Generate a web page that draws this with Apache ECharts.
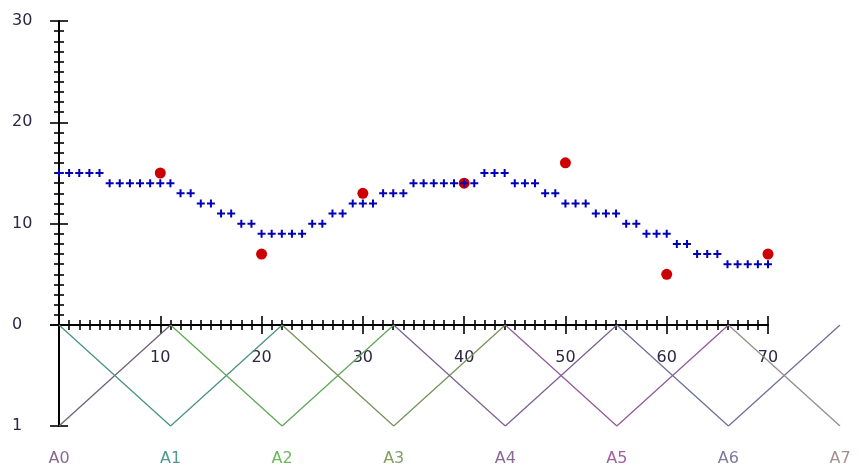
<!DOCTYPE html>
<html>
<head>
<meta charset="utf-8">
<script src="https://cdn.jsdelivr.net/npm/echarts@6/dist/echarts.min.js"></script>
<style>
  html, body { margin: 0; padding: 0; background: #ffffff; }
  #chart { width: 859px; height: 473px; }
</style>
</head>
<body>
<div id="chart"></div>
<script>
// Sampled levels, one per integer step from 0 to 70
const sampleLevels = [
  15, 15, 15, 15, 15,
  14, 14, 14, 14, 14, 14, 14,
  13, 13, 12, 12, 11, 11, 10, 10,
  9, 9, 9, 9, 9,
  10, 10, 11, 11, 12, 12, 12, 13, 13, 13,
  14, 14, 14, 14, 14, 14, 14,
  15, 15, 15, 14, 14, 14, 13, 13,
  12, 12, 12, 11, 11, 11, 10, 10,
  9, 9, 9, 8, 8, 7, 7, 7,
  6, 6, 6, 6, 6
];

// Reference readings
const refX = [10, 20, 30, 40, 50, 60, 70];
const refY = [15, 7, 13, 14, 16, 5, 7];

// Lower panel: categories and triangular membership of each one
const categories = ['A0', 'A1', 'A2', 'A3', 'A4', 'A5', 'A6', 'A7'];
const memberA0 = [1, 0, null, null, null, null, null, null];
const memberA1 = [0, 1, 0, null, null, null, null, null];
const memberA2 = [null, 0, 1, 0, null, null, null, null];
const memberA3 = [null, null, 0, 1, 0, null, null, null];
const memberA4 = [null, null, null, 0, 1, 0, null, null];
const memberA5 = [null, null, null, null, 0, 1, 0, null];
const memberA6 = [null, null, null, null, null, 0, 1, 0];
const memberA7 = [null, null, null, null, null, null, 0, 1];
const memberships = [memberA0, memberA1, memberA2, memberA3, memberA4, memberA5, memberA6, memberA7];

const lineColors  = ['#72607a', '#4a9482', '#5fa858', '#76945a', '#7e6290', '#955a9a', '#70709a', '#9a8a8a'];
const labelColors = ['#8c6a8c', '#4f9a8a', '#6ab85e', '#849e60', '#8a6a98', '#a060a4', '#7e7aa0', '#a39090'];

const FONT = 'DejaVu Sans';
const INK = '#000000';
const TEXT = '#2c2844';

const chart = echarts.init(document.getElementById('chart'), null, { renderer: 'canvas' });

// Value axis with ticks drawn on one side; pairs of these give crossing ticks
function valueAxis(extra, inside, withLine) {
  return Object.assign({
    type: 'value',
    splitLine: { show: false },
    axisLine: { show: withLine, onZero: false, lineStyle: { color: INK, width: 2 } },
    axisTick: { show: true, inside: inside, length: 9, lineStyle: { color: INK, width: 1.6 } },
    minorTick: { show: true, splitNumber: 10, length: 5, lineStyle: { color: INK, width: 1.6 } },
    axisLabel: { show: false }
  }, extra);
}

const labelStyle = { fontFamily: FONT, fontSize: 16, color: TEXT };

const option = {
  animation: false,
  backgroundColor: '#ffffff',
  grid: [
    { left: 59, top: 21, width: 709, height: 304 },
    { left: 59, top: 325, width: 781, height: 101 }
  ],
  xAxis: [
    valueAxis({
      gridIndex: 0, min: 0, max: 70, interval: 10, position: 'bottom',
      axisLabel: Object.assign({ show: true, margin: 25, formatter: v => (v === 0 ? '' : String(v)) }, labelStyle)
    }, false, true),
    valueAxis({ gridIndex: 0, min: 0, max: 70, interval: 10, position: 'bottom' }, true, false),
    {
      type: 'category', gridIndex: 1, data: categories, boundaryGap: false, position: 'bottom',
      axisLine: { show: false }, axisTick: { show: false }, splitLine: { show: false },
      axisLabel: {
        interval: 0, margin: 25, fontFamily: FONT, fontSize: 16,
        color: (value) => labelColors[categories.indexOf(value)]
      }
    }
  ],
  yAxis: [
    valueAxis({
      gridIndex: 0, min: 0, max: 30, interval: 10, position: 'left',
      axisLabel: Object.assign({ show: true, margin: 47, align: 'left' }, labelStyle)
    }, false, true),
    valueAxis({ gridIndex: 0, min: 0, max: 30, interval: 10, position: 'left' }, true, false),
    valueAxis({
      gridIndex: 1, min: 0, max: 1, interval: 1, inverse: true, position: 'left',
      minorTick: { show: false },
      axisLabel: Object.assign({ show: true, margin: 47, align: 'left', formatter: v => (v === 0 ? '' : String(v)) }, labelStyle)
    }, false, true),
    valueAxis({
      gridIndex: 1, min: 0, max: 1, interval: 1, inverse: true, position: 'left',
      minorTick: { show: false }
    }, true, false)
  ],
  series: [
    {
      type: 'scatter', xAxisIndex: 0, yAxisIndex: 0, z: 2,
      symbol: 'circle', symbolSize: 11,
      itemStyle: { color: '#cc0000', opacity: 1 },
      data: refX.map((x, i) => [x, refY[i]])
    },
    {
      type: 'scatter', xAxisIndex: 0, yAxisIndex: 0, z: 3,
      symbol: 'path://M3,0H5V3H8V5H5V8H3V5H0V3H3Z', symbolSize: 8,
      itemStyle: { color: '#0000b8', opacity: 1 },
      data: sampleLevels.map((v, i) => [i, v])
    }
  ].concat(memberships.map((m, i) => ({
    type: 'line', xAxisIndex: 2, yAxisIndex: 2, z: 1,
    name: categories[i], data: m, showSymbol: false, connectNulls: false,
    lineStyle: { color: lineColors[i], width: 1.3 },
    itemStyle: { color: lineColors[i] }
  })))
};

chart.setOption(option);
</script>
</body>
</html>
